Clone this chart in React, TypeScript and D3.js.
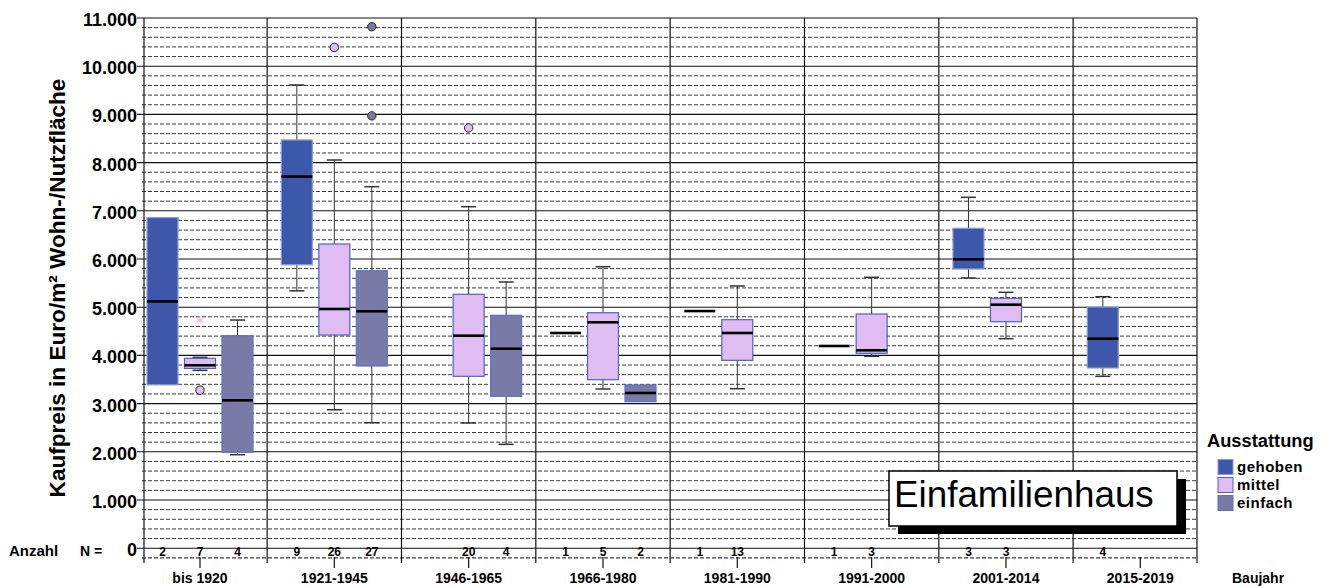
import React from 'react'
import { scaleLinear, scalePoint, range, symbol, symbolAsterisk } from 'd3'

const categories = ['bis 1920', '1921-1945', '1946-1965', '1966-1980', '1981-1990', '1991-2000', '2001-2014', '2015-2019']
const seriesNames = ['gehoben', 'mittel', 'einfach']

// [whisker low, Q1, median, Q3, whisker high]
const gehobenBoxes = [
  [3390, 3390, 5120, 6860, 6860],
  [5340, 5880, 7710, 8470, 9610],
  null,
  [4465, 4465, 4465, 4465, 4465],
  [4920, 4920, 4920, 4920, 4920],
  [4195, 4195, 4195, 4195, 4195],
  [5606, 5793, 5994, 6637, 7280],
  [3566, 3739, 4347, 5004, 5218]
]
const mittelBoxes = [
  [3690, 3730, 3795, 3940, 3960],
  [2873, 4423, 4963, 6311, 8054],
  [2598, 3566, 4409, 5268, 7085],
  [3303, 3496, 4687, 4886, 5840],
  [3309, 3898, 4465, 4741, 5440],
  [3981, 4043, 4106, 4859, 5620],
  [4347, 4699, 5052, 5185, 5309],
  null
]
const einfachBoxes = [
  [1940, 1990, 3068, 4409, 4734],
  [2604, 3780, 4915, 5757, 7500],
  [2155, 3151, 4139, 4832, 5523],
  [3040, 3040, 3220, 3386, 3386],
  null, null, null, null
]

const gehobenN = [2, 9, null, 1, 1, 1, 3, 4]
const mittelN = [7, 26, 20, 5, 13, 3, 3, null]
const einfachN = [4, 27, 4, 2, null, null, null, null]

// [category, series, value]
const outliers = [
  ['bis 1920', 'mittel', 3280],
  ['1921-1945', 'mittel', 10390],
  ['1921-1945', 'einfach', 10820],
  ['1921-1945', 'einfach', 8970],
  ['1946-1965', 'mittel', 8720]
]
const extremes = [
  ['bis 1920', 'mittel', 4730]
]

const yTicks = range(0, 11001, 1000)
const yMinor = range(-200, 11000, 200).filter(v => v % 1000 !== 0)

const fill = { gehoben: '#3d57aa', mittel: '#dfbcf2', einfach: '#7a7aa8' }
const edge = { gehoben: '#8d9bd6', mittel: '#4d62c4', einfach: '#5e70c6' }

const boxes = { gehoben: gehobenBoxes, mittel: mittelBoxes, einfach: einfachBoxes }
const counts = { gehoben: gehobenN, mittel: mittelN, einfach: einfachN }

const font = 'Liberation Sans, Arial, sans-serif'

export default function App() {
  const left = 144
  const right = 1197
  const y = scaleLinear().domain([0, 11000]).range([548.2, 18])
  const x = scalePoint().domain(categories).range([200, 1140.3])
  const step = x.step()
  const offset = { gehoben: -37.5, mittel: 0, einfach: 37.5 }
  const bw = 31
  const cap = 15
  const xs = (c: string, s: string) => (x(c) ?? 0) + offset[s]

  return (
    <svg width={1330} height={586} style={{ position: 'absolute', left: 0, top: 0, background: '#fff' }} fontFamily={font}>
      {/* minor dashed grid */}
      {yMinor.map(v => (
        <line key={'m' + v} x1={left - 2} x2={right} y1={y(v)} y2={y(v)} stroke='#3a3a3a' strokeWidth={v === -200 ? 1.4 : 1} strokeDasharray='4,2' />
      ))}
      {/* major grid + ticks */}
      {yTicks.map(v => (
        <g key={'t' + v}>
          <line x1={left - 7} x2={right} y1={y(v)} y2={y(v)} stroke='#111' strokeWidth={1.1} />
          <text x={left - 7} y={y(v) + 8} textAnchor='end' fontSize={18} fontWeight='bold'>
            {v === 0 ? '0' : (v / 1000).toFixed(3)}
          </text>
        </g>
      ))}
      {/* vertical frame / dividers */}
      {range(categories.length + 1).map(i => {
        const xv = i === 0 ? left : i === categories.length ? right : (x(categories[0]) ?? 0) - step / 2 + i * step
        return <line key={'v' + i} x1={xv} x2={xv} y1={18} y2={563} stroke='#111' strokeWidth={1.2} />
      })}
      {categories.map(c => (
        <g key={'xt' + c}>
          <line x1={x(c)} x2={x(c)} y1={557} y2={568} stroke='#111' strokeWidth={1.2} />
          <text x={x(c)} y={583} textAnchor='middle' fontSize={14} fontWeight='bold'>{c}</text>
        </g>
      ))}

      {/* boxes */}
      {seriesNames.map(s =>
        categories.map((c, i) => {
          const b = boxes[s][i]
          if (!b) return null
          const cx = xs(c, s)
          const [lo, q1, md, q3, hi] = b
          const single = lo === hi
          return (
            <g key={s + c}>
              {!single && hi > q3 && (
                <>
                  <line x1={cx} x2={cx} y1={y(hi)} y2={y(q3)} stroke='#333' />
                  <line x1={cx - cap / 2} x2={cx + cap / 2} y1={y(hi)} y2={y(hi)} stroke='#333' strokeWidth={1.5} />
                </>
              )}
              {!single && lo < q1 && (
                <>
                  <line x1={cx} x2={cx} y1={y(q1)} y2={y(lo)} stroke='#333' />
                  <line x1={cx - cap / 2} x2={cx + cap / 2} y1={y(lo)} y2={y(lo)} stroke='#333' strokeWidth={1.5} />
                </>
              )}
              {!single && (
                <rect x={cx - bw / 2} y={y(q3)} width={bw} height={y(q1) - y(q3)} fill={fill[s]} stroke={edge[s]} strokeWidth={1.2} />
              )}
              <line x1={cx - bw / 2} x2={cx + bw / 2} y1={y(md)} y2={y(md)} stroke='#000' strokeWidth={2.6} />
            </g>
          )
        })
      )}

      {/* outliers */}
      {outliers.map(([c, s, v], i) => (
        <circle key={'o' + i} cx={xs(c as string, s as string)} cy={y(v as number)} r={4.2} fill={fill[s as string]} stroke='#222' strokeWidth={1} />
      ))}
      {extremes.map(([c, s, v], i) => (
        <path key={'e' + i} transform={`translate(${xs(c as string, s as string)},${y(v as number)})`} d={symbol(symbolAsterisk, 40)() ?? ''} fill='none' stroke='#e2bff4' strokeWidth={1.2} />
      ))}

      {/* N counts */}
      <text x={9} y={556} fontSize={15} fontWeight='bold'>Anzahl</text>
      <text x={80} y={556} fontSize={14} fontWeight='bold'>N =</text>
      {seriesNames.map(s =>
        categories.map((c, i) => counts[s][i] == null ? null : (
          <text key={'n' + s + c} x={xs(c, s)} y={556} textAnchor='middle' fontSize={12} fontWeight='bold'>{counts[s][i]}</text>
        ))
      )}

      {/* y title */}
      <text transform='translate(65,288) rotate(-90)' textAnchor='middle' fontSize={22.6} fontWeight='bold'>
        Kaufpreis in Euro/m² Wohn-/Nutzfläche
      </text>
      <text x={1232} y={583} fontSize={14} fontWeight='bold'>Baujahr</text>

      {/* title box */}
      <rect x={898} y={479} width={288} height={55} fill='#000' />
      <rect x={889} y={471} width={288} height={55} fill='#fff' stroke='#000' strokeWidth={1.5} />
      <text x={894} y={507} fontSize={36.8}>Einfamilienhaus</text>

      {/* legend */}
      <text x={1207} y={447} fontSize={18.3} fontWeight='bold'>Ausstattung</text>
      {seriesNames.map((s, i) => (
        <g key={'l' + s} transform={`translate(1218,${459.5 + i * 18})`}>
          <rect width={15} height={15} fill={fill[s]} stroke={edge[s]} strokeWidth={1} />
          <text x={19} y={12.5} fontSize={15} fontWeight='bold' letterSpacing={0.5}>{s}</text>
        </g>
      ))}
    </svg>
  )
}
